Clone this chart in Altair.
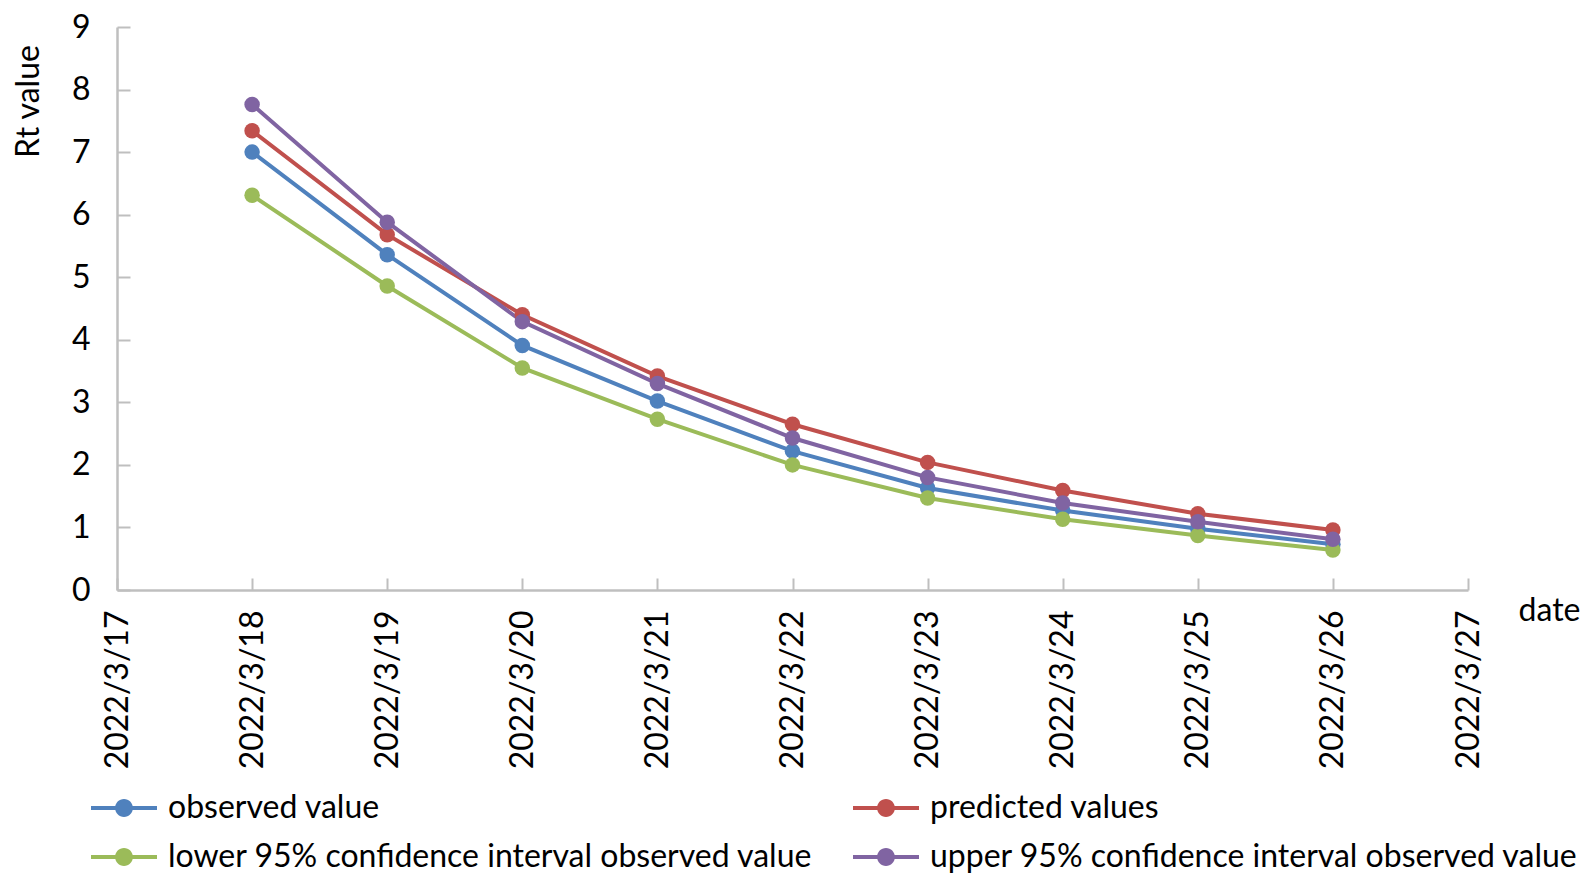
import altair as alt
import pandas as pd

dates = ["2022/3/17", "2022/3/18", "2022/3/19", "2022/3/20", "2022/3/21", "2022/3/22",
         "2022/3/23", "2022/3/24", "2022/3/25", "2022/3/26", "2022/3/27"]
obs_dates = dates[1:10]

series_names = [
    "observed value",
    "predicted values",
    "lower 95% confidence interval observed value",
    "upper 95% confidence interval observed value",
]
series_colors = ["#4F81BD", "#C0504D", "#9BBB59", "#8064A2"]

observed = [7.00, 5.36, 3.91, 3.02, 2.22, 1.63, 1.27, 0.98, 0.73]
predicted = [7.34, 5.68, 4.40, 3.42, 2.65, 2.04, 1.59, 1.22, 0.96]
lower95 = [6.31, 4.86, 3.55, 2.73, 2.00, 1.47, 1.13, 0.87, 0.64]
upper95 = [7.76, 5.88, 4.29, 3.30, 2.43, 1.80, 1.39, 1.09, 0.81]

rows = []
for name, vals in zip(series_names, [observed, predicted, lower95, upper95]):
    for d, v in zip(obs_dates, vals):
        rows.append({"date": d, "series": name, "value": v})
df = pd.DataFrame(rows)

FONT = "Lato"
AXIS_COLOR = "#BFBFBF"

x_enc = alt.X(
    "date:O",
    scale=alt.Scale(type="point", domain=dates, padding=0),
    axis=alt.Axis(
        title="date",
        labelAngle=270,
        labelAlign="right",
        labelBaseline="middle",
        labelPadding=32,
        tickSize=alt.ExprRef(expr="-12"),
        tickColor=AXIS_COLOR,
        tickWidth=2,
        domainColor=AXIS_COLOR,
        domainWidth=2.5,
        labelFont=FONT,
        labelFontSize=32,
        labelColor="#000000",
        titleFont=FONT,
        titleFontSize=32,
        titleFontWeight="normal",
        titleColor="#000000",
        titleAngle=0,
        titleAlign="center",
        titleBaseline="middle",
        titleX=1432,
        titleY=20,
        grid=False,
    ),
)

y_enc = alt.Y(
    "value:Q",
    scale=alt.Scale(domain=[0, 9], nice=False, zero=True),
    axis=alt.Axis(
        title="Rt value",
        values=list(range(0, 10)),
        format="d",
        tickSize=alt.ExprRef(expr="-13"),
        tickColor=AXIS_COLOR,
        tickWidth=2,
        domainColor=AXIS_COLOR,
        domainWidth=2.5,
        labelPadding=40,
        labelFont=FONT,
        labelFontSize=32,
        labelColor="#000000",
        titleFont=FONT,
        titleFontSize=32,
        titleFontWeight="normal",
        titleColor="#000000",
        titleAngle=270,
        titleAlign="center",
        titleBaseline="middle",
        titleX=-89,
        titleY=74,
        grid=False,
    ),
)

color_scale = alt.Scale(domain=series_names, range=series_colors)

legend_path = ("M-1,-0.06L1,-0.06L1,0.06L-1,0.06Z "
               "M0.27,0A0.27,0.27,0,1,1,-0.27,0A0.27,0.27,0,1,1,0.27,0Z")

line_layers = []
for name, col in zip(series_names, series_colors):
    line_layers.append(
        alt.Chart(df)
        .transform_filter(alt.datum.series == name)
        .mark_line(strokeWidth=4, color=col)
        .encode(x=x_enc, y=y_enc, order=alt.Order("date:O"))
    )

points = alt.Chart(df).mark_circle(size=240, opacity=1, strokeWidth=0).encode(
    x=x_enc,
    y=y_enc,
    color=alt.Color(
        "series:N",
        scale=color_scale,
        legend=alt.Legend(
            title=None,
            orient="none",
            direction="horizontal",
            legendX=-26,
            legendY=748,
            columns=2,
            columnPadding=40,
            rowPadding=-8,
            symbolType=legend_path,
            symbolSize=4356,
            symbolStrokeWidth=0,
            symbolOpacity=1,
            labelOffset=11,
            labelFont=FONT,
            labelFontSize=32,
            labelColor="#000000",
            labelLimit=1000,
            padding=0,
        ),
    ),
)

chart = alt.layer(*line_layers, points).properties(
    width=1351,
    height=563,
    autosize=alt.AutoSizeParams(type="none"),
    padding={"left": 109, "top": 19, "right": 118, "bottom": 286},
).configure_view(stroke=None)

chart.save("out.html", embed_options={"renderer": "svg", "actions": False})
